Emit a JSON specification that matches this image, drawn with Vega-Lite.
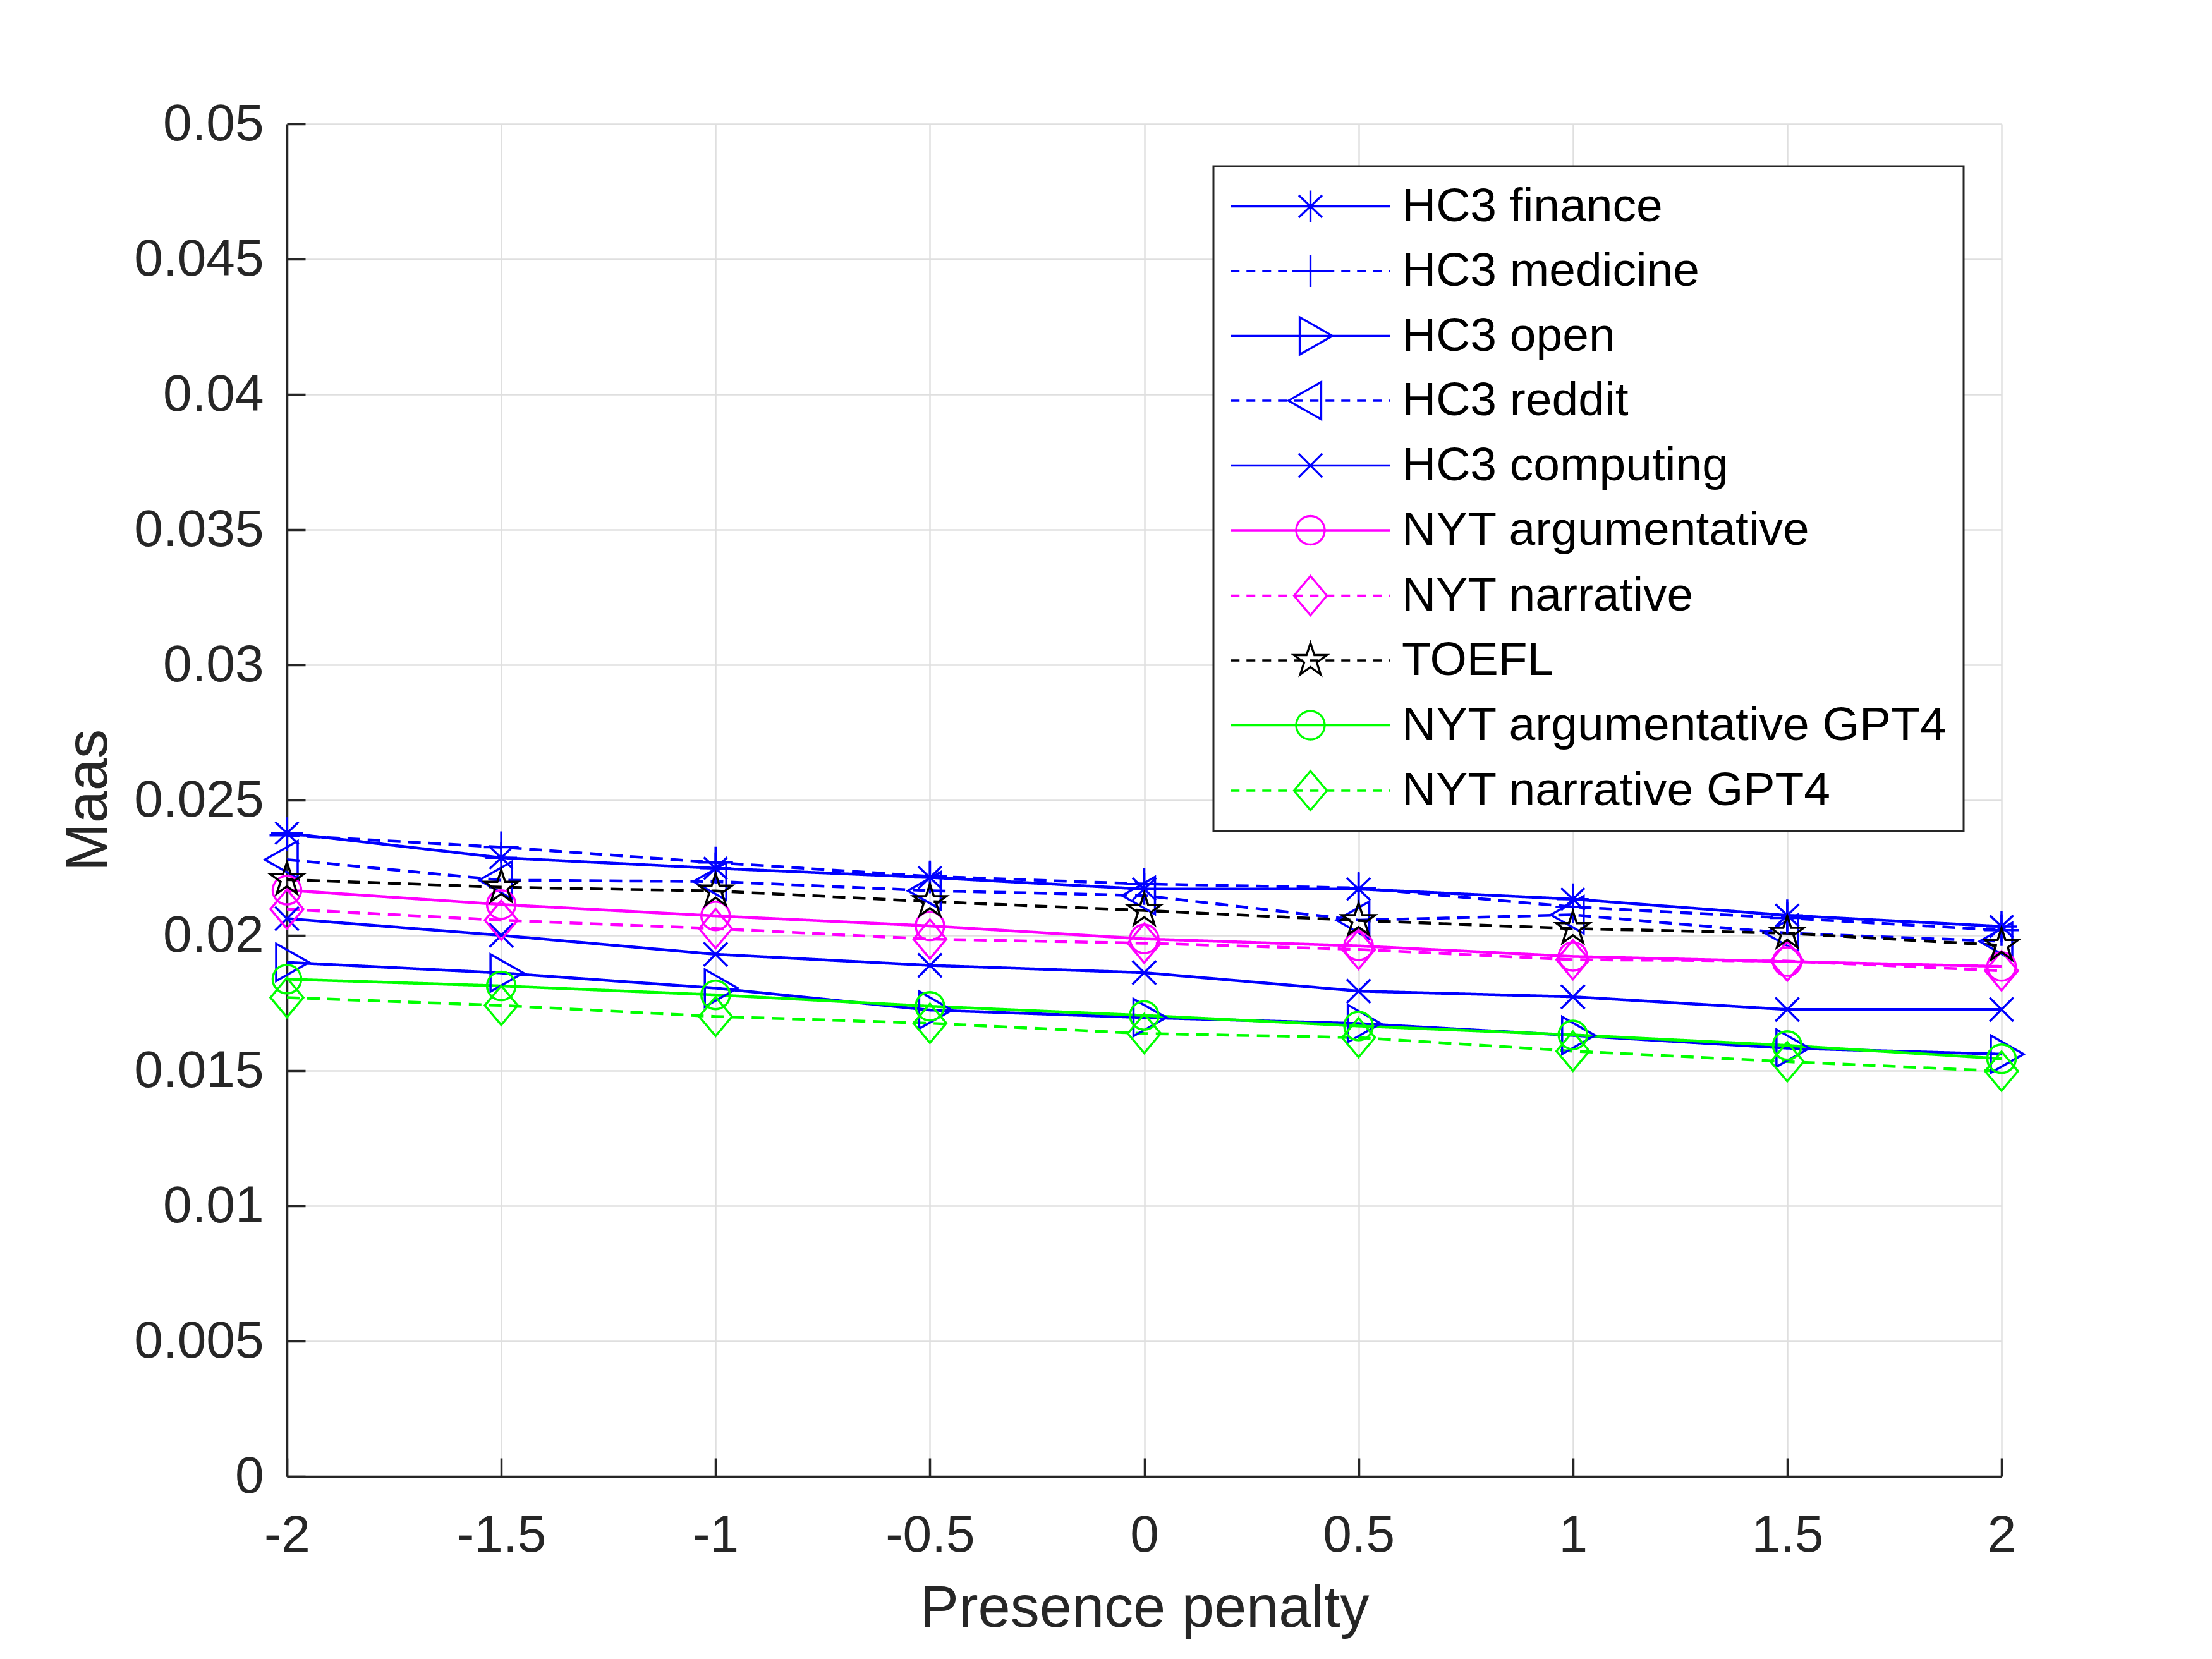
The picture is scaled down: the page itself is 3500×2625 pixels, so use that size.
{
  "$schema": "https://vega.github.io/schema/vega-lite/v6.json",
  "autosize": {"type": "none"},
  "padding": {"left": 454, "top": 196, "right": 333, "bottom": 289},
  "width": 2713,
  "height": 2140,
  "background": "white",
  "config": {
    "view": {"stroke": null},
    "axis": {
      "labelFont": "Liberation Sans",
      "labelFontSize": 82,
      "labelColor": "#262626",
      "labelLimit": 0,
      "labelFlush": false,
      "titleFont": "Liberation Sans",
      "titleFontSize": 92,
      "titleFontWeight": "normal",
      "titleColor": "#262626",
      "domainColor": "#262626",
      "domainWidth": 3.5,
      "tickColor": "#262626",
      "tickWidth": 3.5,
      "tickSize": -29,
      "gridColor": "#dfdfdf",
      "gridWidth": 2.5,
      "labelExpr": "'' + datum.value"
    },
    "legend": {
      "labelFont": "Liberation Sans",
      "labelFontSize": 75,
      "labelColor": "black",
      "labelLimit": 0,
      "labelBaseline": "middle",
      "symbolSize": 2500,
      "symbolStrokeWidth": 3.3,
      "labelOffset": 197,
      "rowPadding": 26.5,
      "padding": 26,
      "strokeColor": "#262626",
      "fillColor": "white",
      "strokeWidth": 3
    }
  },
  "data": {
    "values": [
      {"x": -2, "series": "HC3 finance", "y": 0.02378},
      {"x": -1.5, "series": "HC3 finance", "y": 0.02287},
      {"x": -1, "series": "HC3 finance", "y": 0.02248},
      {"x": -0.5, "series": "HC3 finance", "y": 0.02214},
      {"x": 0, "series": "HC3 finance", "y": 0.02171},
      {"x": 0.5, "series": "HC3 finance", "y": 0.02171},
      {"x": 1, "series": "HC3 finance", "y": 0.02134},
      {"x": 1.5, "series": "HC3 finance", "y": 0.02074},
      {"x": 2, "series": "HC3 finance", "y": 0.02033},
      {"x": -2, "series": "HC3 medicine", "y": 0.0237},
      {"x": -1.5, "series": "HC3 medicine", "y": 0.02326},
      {"x": -1, "series": "HC3 medicine", "y": 0.02269},
      {"x": -0.5, "series": "HC3 medicine", "y": 0.02218},
      {"x": 0, "series": "HC3 medicine", "y": 0.0219},
      {"x": 0.5, "series": "HC3 medicine", "y": 0.02175},
      {"x": 1, "series": "HC3 medicine", "y": 0.02105},
      {"x": 1.5, "series": "HC3 medicine", "y": 0.02064},
      {"x": 2, "series": "HC3 medicine", "y": 0.02019},
      {"x": -2, "series": "HC3 open", "y": 0.019},
      {"x": -1.5, "series": "HC3 open", "y": 0.01861},
      {"x": -1, "series": "HC3 open", "y": 0.01805},
      {"x": -0.5, "series": "HC3 open", "y": 0.01724},
      {"x": 0, "series": "HC3 open", "y": 0.01696},
      {"x": 0.5, "series": "HC3 open", "y": 0.01674},
      {"x": 1, "series": "HC3 open", "y": 0.0163},
      {"x": 1.5, "series": "HC3 open", "y": 0.01583},
      {"x": 2, "series": "HC3 open", "y": 0.01561},
      {"x": -2, "series": "HC3 reddit", "y": 0.0228},
      {"x": -1.5, "series": "HC3 reddit", "y": 0.02204},
      {"x": -1, "series": "HC3 reddit", "y": 0.02199},
      {"x": -0.5, "series": "HC3 reddit", "y": 0.02165},
      {"x": 0, "series": "HC3 reddit", "y": 0.02147},
      {"x": 0.5, "series": "HC3 reddit", "y": 0.02056},
      {"x": 1, "series": "HC3 reddit", "y": 0.02076},
      {"x": 1.5, "series": "HC3 reddit", "y": 0.02008},
      {"x": 2, "series": "HC3 reddit", "y": 0.01978},
      {"x": -2, "series": "HC3 computing", "y": 0.02062},
      {"x": -1.5, "series": "HC3 computing", "y": 0.02},
      {"x": -1, "series": "HC3 computing", "y": 0.0193},
      {"x": -0.5, "series": "HC3 computing", "y": 0.01889},
      {"x": 0, "series": "HC3 computing", "y": 0.01862},
      {"x": 0.5, "series": "HC3 computing", "y": 0.01794},
      {"x": 1, "series": "HC3 computing", "y": 0.01773},
      {"x": 1.5, "series": "HC3 computing", "y": 0.01726},
      {"x": 2, "series": "HC3 computing", "y": 0.01726},
      {"x": -2, "series": "NYT argumentative", "y": 0.02167},
      {"x": -1.5, "series": "NYT argumentative", "y": 0.02114},
      {"x": -1, "series": "NYT argumentative", "y": 0.02072},
      {"x": -0.5, "series": "NYT argumentative", "y": 0.02035},
      {"x": 0, "series": "NYT argumentative", "y": 0.01987},
      {"x": 0.5, "series": "NYT argumentative", "y": 0.01961},
      {"x": 1, "series": "NYT argumentative", "y": 0.01922},
      {"x": 1.5, "series": "NYT argumentative", "y": 0.01903},
      {"x": 2, "series": "NYT argumentative", "y": 0.01885},
      {"x": -2, "series": "NYT narrative", "y": 0.02097},
      {"x": -1.5, "series": "NYT narrative", "y": 0.02056},
      {"x": -1, "series": "NYT narrative", "y": 0.02025},
      {"x": -0.5, "series": "NYT narrative", "y": 0.01986},
      {"x": 0, "series": "NYT narrative", "y": 0.01971},
      {"x": 0.5, "series": "NYT narrative", "y": 0.01948},
      {"x": 1, "series": "NYT narrative", "y": 0.0191},
      {"x": 1.5, "series": "NYT narrative", "y": 0.01905},
      {"x": 2, "series": "NYT narrative", "y": 0.01869},
      {"x": -2, "series": "TOEFL", "y": 0.02206},
      {"x": -1.5, "series": "TOEFL", "y": 0.02178},
      {"x": -1, "series": "TOEFL", "y": 0.02164},
      {"x": -0.5, "series": "TOEFL", "y": 0.02125},
      {"x": 0, "series": "TOEFL", "y": 0.02092},
      {"x": 0.5, "series": "TOEFL", "y": 0.02055},
      {"x": 1, "series": "TOEFL", "y": 0.02025},
      {"x": 1.5, "series": "TOEFL", "y": 0.02008},
      {"x": 2, "series": "TOEFL", "y": 0.01963},
      {"x": -2, "series": "NYT argumentative GPT4", "y": 0.01838},
      {"x": -1.5, "series": "NYT argumentative GPT4", "y": 0.01813},
      {"x": -1, "series": "NYT argumentative GPT4", "y": 0.0178},
      {"x": -0.5, "series": "NYT argumentative GPT4", "y": 0.01738},
      {"x": 0, "series": "NYT argumentative GPT4", "y": 0.01704},
      {"x": 0.5, "series": "NYT argumentative GPT4", "y": 0.01665},
      {"x": 1, "series": "NYT argumentative GPT4", "y": 0.01632},
      {"x": 1.5, "series": "NYT argumentative GPT4", "y": 0.01593},
      {"x": 2, "series": "NYT argumentative GPT4", "y": 0.01544},
      {"x": -2, "series": "NYT narrative GPT4", "y": 0.0177},
      {"x": -1.5, "series": "NYT narrative GPT4", "y": 0.01741},
      {"x": -1, "series": "NYT narrative GPT4", "y": 0.017},
      {"x": -0.5, "series": "NYT narrative GPT4", "y": 0.01675},
      {"x": 0, "series": "NYT narrative GPT4", "y": 0.01637},
      {"x": 0.5, "series": "NYT narrative GPT4", "y": 0.01622},
      {"x": 1, "series": "NYT narrative GPT4", "y": 0.01572},
      {"x": 1.5, "series": "NYT narrative GPT4", "y": 0.01533},
      {"x": 2, "series": "NYT narrative GPT4", "y": 0.01498}
    ]
  },
  "encoding": {
    "x": {
      "field": "x",
      "type": "quantitative",
      "scale": {"domain": [-2, 2], "nice": false},
      "axis": {
        "title": "Presence penalty",
        "values": [-2, -1.5, -1, -0.5, 0, 0.5, 1, 1.5, 2],
        "labelPadding": 82,
        "titlePadding": 30
      }
    },
    "y": {
      "field": "y",
      "type": "quantitative",
      "scale": {"domain": [0, 0.05], "nice": false, "zero": true},
      "axis": {
        "title": "Maas",
        "values": [0, 0.005, 0.01, 0.015, 0.02, 0.025, 0.03, 0.035, 0.04, 0.045, 0.05],
        "labelPadding": 66,
        "titleX": -267,
        "titleY": 1070
      }
    },
    "color": {
      "field": "series",
      "type": "nominal",
      "scale": {
        "domain": ["HC3 finance", "HC3 medicine", "HC3 open", "HC3 reddit", "HC3 computing", "NYT argumentative", "NYT narrative", "TOEFL", "NYT argumentative GPT4", "NYT narrative GPT4"],
        "range": ["#0000ff", "#0000ff", "#0000ff", "#0000ff", "#0000ff", "#ff00ff", "#ff00ff", "#000000", "#00ff00", "#00ff00"]
      },
      "legend": {
        "title": null,
        "orient": "none",
        "legendX": 1466,
        "legendY": 67,
        "encode": {
          "symbols": {
            "update": {
              "fill": {"value": "transparent"},
              "strokeWidth": {"value": 3.3},
              "strokeDash": {"value": [1, 0]},
              "shape": {"signal": "['M-1.45,0 L8.64,0 M3.6,-1 L3.6,1 M2.6,0 L4.6,0 M2.86,-0.7 L4.34,0.7 M2.86,0.7 L4.34,-0.7', 'M-1.45,0 L-0.89,0 M-0.45,0 L0.11,0 M0.55,0 L1.11,0 M1.55,0 L2.11,0 M2.55,0 L3.11,0 M3.55,0 L4.11,0 M4.55,0 L5.11,0 M5.55,0 L6.11,0 M6.55,0 L7.11,0 M7.55,0 L8.11,0 M8.55,0 L8.64,0 M2.46,0 L4.74,0 M3.6,-1 L3.6,1', 'M-1.45,0 L8.64,0 M2.92,-1.18 L5,0 L2.92,1.18 Z', 'M-1.45,0 L-0.89,0 M-0.45,0 L0.11,0 M0.55,0 L1.11,0 M1.55,0 L2.11,0 M2.55,0 L3.11,0 M3.55,0 L4.11,0 M4.55,0 L5.11,0 M5.55,0 L6.11,0 M6.55,0 L7.11,0 M7.55,0 L8.11,0 M8.55,0 L8.64,0 M4.28,-1.18 L2.2,0 L4.28,1.18 Z', 'M-1.45,0 L8.64,0 M2.85,-0.75 L4.35,0.75 M2.85,0.75 L4.35,-0.75', 'M-1.45,0 L8.64,0 M4.5,0 A0.9,0.9 0 1,1 2.7,0 A0.9,0.9 0 1,1 4.5,0 Z', 'M-1.45,0 L-0.89,0 M-0.45,0 L0.11,0 M0.55,0 L1.11,0 M1.55,0 L2.11,0 M2.55,0 L3.11,0 M3.55,0 L4.11,0 M4.55,0 L5.11,0 M5.55,0 L6.11,0 M6.55,0 L7.11,0 M7.55,0 L8.11,0 M8.55,0 L8.64,0 M3.6,-1.24 L4.64,0 L3.6,1.24 L2.56,0 Z', 'M-1.45,0 L-0.89,0 M-0.45,0 L0.11,0 M0.55,0 L1.11,0 M1.55,0 L2.11,0 M2.55,0 L3.11,0 M3.55,0 L4.11,0 M4.55,0 L5.11,0 M5.55,0 L6.11,0 M6.55,0 L7.11,0 M7.55,0 L8.11,0 M8.55,0 L8.64,0 M3.6,-1.1 L3.847,-0.34 L4.646,-0.34 L4,0.13 L4.247,0.89 L3.6,0.42 L2.953,0.89 L3.2,0.13 L2.554,-0.34 L3.353,-0.34 Z', 'M-1.45,0 L8.64,0 M4.5,0 A0.9,0.9 0 1,1 2.7,0 A0.9,0.9 0 1,1 4.5,0 Z', 'M-1.45,0 L-0.89,0 M-0.45,0 L0.11,0 M0.55,0 L1.11,0 M1.55,0 L2.11,0 M2.55,0 L3.11,0 M3.55,0 L4.11,0 M4.55,0 L5.11,0 M5.55,0 L6.11,0 M6.55,0 L7.11,0 M7.55,0 L8.11,0 M8.55,0 L8.64,0 M3.6,-1.24 L4.64,0 L3.6,1.24 L2.56,0 Z'][indexof(['HC3 finance', 'HC3 medicine', 'HC3 open', 'HC3 reddit', 'HC3 computing', 'NYT argumentative', 'NYT narrative', 'TOEFL', 'NYT argumentative GPT4', 'NYT narrative GPT4'], datum.value)]"}
            }
          }
        }
      }
    }
  },
  "layer": [
    {
      "mark": {"type": "line", "strokeWidth": 4.5},
      "encoding": {
        "strokeDash": {
          "field": "series",
          "type": "nominal",
          "scale": {
            "domain": ["HC3 medicine", "HC3 reddit", "NYT narrative", "TOEFL", "NYT narrative GPT4", "HC3 finance", "HC3 open", "HC3 computing", "NYT argumentative", "NYT argumentative GPT4"],
            "range": [[20, 12], [20, 12], [20, 12], [20, 12], [20, 12], [1, 0], [1, 0], [1, 0], [1, 0], [1, 0]]
          },
          "legend": null
        }
      }
    },
    {
      "mark": {"type": "point", "filled": false, "strokeWidth": 3.5, "size": 2500, "opacity": 1},
      "encoding": {
        "shape": {
          "field": "series",
          "type": "nominal",
          "scale": {
            "domain": ["NYT narrative GPT4", "NYT argumentative GPT4", "TOEFL", "NYT narrative", "NYT argumentative", "HC3 computing", "HC3 reddit", "HC3 open", "HC3 medicine", "HC3 finance"],
            "range": [
              "M0,-1.24 L1.04,0 L0,1.24 L-1.04,0 Z",
              "M0.9,0 A0.9,0.9 0 1,1 -0.9,0 A0.9,0.9 0 1,1 0.9,0 Z",
              "M0,-1.1 L0.247,-0.34 L1.046,-0.34 L0.4,0.13 L0.647,0.89 L0,0.42 L-0.647,0.89 L-0.4,0.13 L-1.046,-0.34 L-0.247,-0.34 Z",
              "M0,-1.24 L1.04,0 L0,1.24 L-1.04,0 Z",
              "M0.9,0 A0.9,0.9 0 1,1 -0.9,0 A0.9,0.9 0 1,1 0.9,0 Z",
              "M-0.75,-0.75 L0.75,0.75 M-0.75,0.75 L0.75,-0.75",
              "M0.68,-1.18 L-1.4,0 L0.68,1.18 Z",
              "M-0.68,-1.18 L1.4,0 L-0.68,1.18 Z",
              "M-1.1,0 L1.1,0 M0,-1 L0,1",
              "M0,-1 L0,1 M-1,0 L1,0 M-0.74,-0.7 L0.74,0.7 M-0.74,0.7 L0.74,-0.7"
            ]
          },
          "legend": null
        }
      }
    }
  ]
}
